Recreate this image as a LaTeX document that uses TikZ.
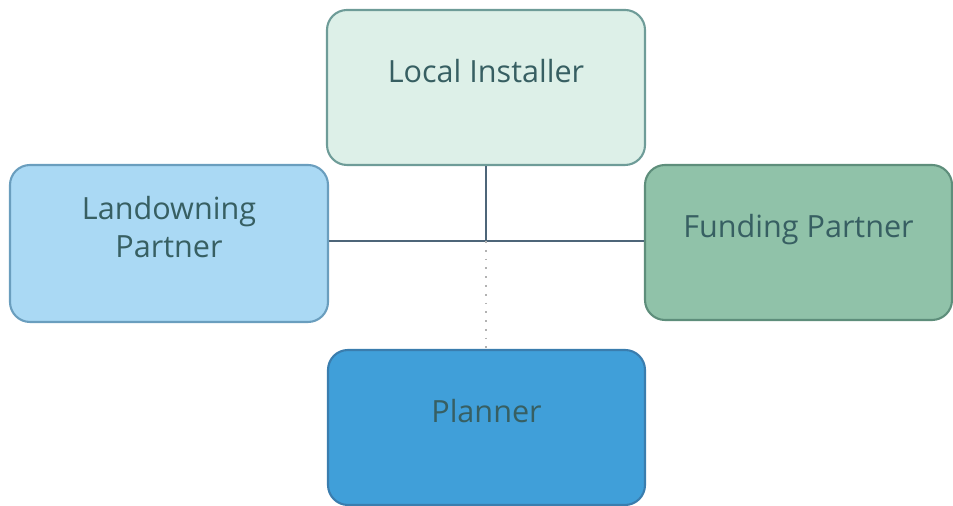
\documentclass[tikz,border=0pt]{standalone}
\usepackage{fontspec}
\setmainfont{Open Sans}
\definecolor{instfill}{HTML}{DDF0E8}
\definecolor{instline}{HTML}{6E9C98}
\definecolor{landfill}{HTML}{AAD9F4}
\definecolor{landline}{HTML}{6A9EBE}
\definecolor{fundfill}{HTML}{90C2A9}
\definecolor{fundline}{HTML}{5E8E7B}
\definecolor{planfill}{HTML}{409FD9}
\definecolor{planline}{HTML}{3A7DAE}
\definecolor{labeltext}{HTML}{375F62}
\definecolor{wire}{HTML}{4D6579}
\begin{document}
\begin{tikzpicture}[
  font=\fontsize{8.7}{10.8}\selectfont,
  party/.style={draw, rounded corners=0.2cm, line width=0.6pt, minimum height=1.55cm,
    align=center, text=labeltext, text depth=0.33cm},
  wireline/.style={draw=wire, line width=0.6pt},
  dotline/.style={draw=gray!60, line width=0.5pt, dotted}
]
  \useasboundingbox (0,0) rectangle (9.53,5.06);
  % partners
  \node[party, fill=instfill, draw=instline, minimum width=3.18cm] (inst) at (4.86,4.185) {Local Installer};
  \node[party, fill=landfill, draw=landline, minimum width=3.18cm, minimum height=1.57cm] (land) at (1.69,2.625) {Landowning\\ Partner};
  \node[party, fill=fundfill, draw=fundline, minimum width=3.07cm] (fund) at (7.985,2.635) {Funding Partner};
  \node[party, fill=planfill, draw=planline, minimum width=3.17cm] (plan) at (4.865,0.785) {Planner};
  % links
  \coordinate (hub) at ([yshift=-0.75cm]inst.south);
  \draw[wireline] (inst.south) -- (hub);
  \draw[wireline] (land.east |- hub) -- (fund.west |- hub);
  \draw[dotline] (hub) -- (hub |- plan.north);
\end{tikzpicture}
\end{document}
